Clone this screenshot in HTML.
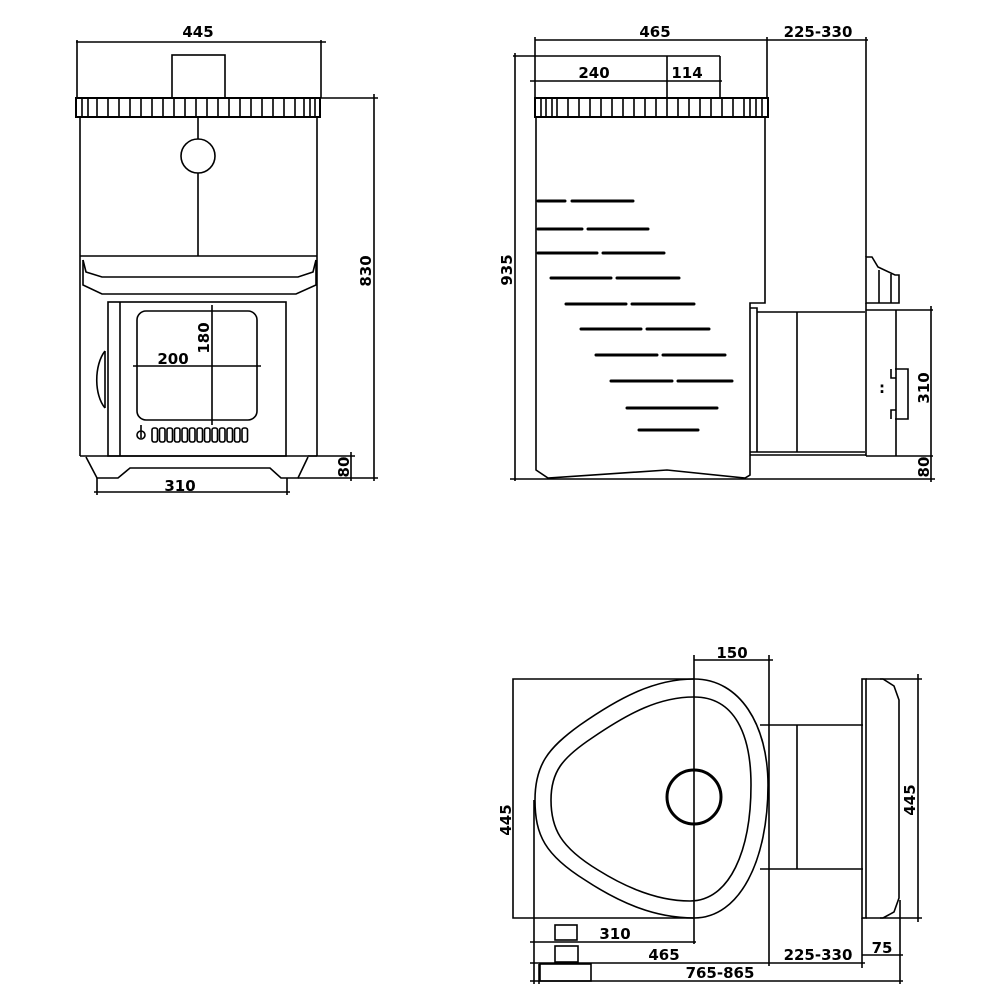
<!DOCTYPE html>
<html><head><meta charset="utf-8"><style>
html,body{margin:0;padding:0;background:#fff;}
svg{display:block;}
text{font-family:"DejaVu Sans","Liberation Sans",sans-serif;font-weight:bold;font-size:15px;fill:#000;}
</style></head><body>
<svg width="1000" height="1000" viewBox="0 0 1000 1000" xmlns="http://www.w3.org/2000/svg">
<g fill="none" stroke="#000" stroke-width="1.6">
<!-- ===== FRONT VIEW ===== -->
<line x1="76" y1="42" x2="326" y2="42"/>
<line x1="77" y1="40" x2="77" y2="98"/>
<line x1="321" y1="40" x2="321" y2="98"/>
<rect x="172" y="55" width="53" height="43"/>
<rect x="76" y="98" width="244" height="19" stroke-width="2"/>
<path d="M82 99v17M88 99v17M97 99v17M108 99v17M119 99v17M130 99v17M141 99v17M152 99v17M163 99v17M174 99v17M185 99v17M196 99v17M207 99v17M218 99v17M229 99v17M240 99v17M251 99v17M262 99v17M273 99v17M284 99v17M295 99v17M304 99v17M310 99v17M315 99v17"/>
<line x1="80" y1="117" x2="80" y2="456"/>
<line x1="317" y1="117" x2="317" y2="456"/>
<line x1="198" y1="117" x2="198" y2="139"/>
<line x1="198" y1="173" x2="198" y2="256"/>
<circle cx="198" cy="156" r="17"/>
<line x1="80" y1="256" x2="317" y2="256"/>
<path d="M83 260 L86 272 L102 277 L298 277 L313 272 L316 260"/>
<path d="M83 260 L83 285 L102 294 L296 294 L316 285 L316 260"/>
<rect x="108" y="302" width="178" height="154"/>
<line x1="120" y1="302" x2="120" y2="456"/>
<rect x="137" y="311" width="120" height="109" rx="9"/>
<line x1="133" y1="366" x2="261" y2="366"/>
<line x1="212" y1="305" x2="212" y2="425"/>
<circle cx="141" cy="435" r="4"/>
<line x1="141" y1="425" x2="141" y2="438"/>
<g>
<rect x="152" y="428" width="5.5" height="14" rx="2"/><rect x="159.5" y="428" width="5.5" height="14" rx="2"/><rect x="167" y="428" width="5.5" height="14" rx="2"/><rect x="174.5" y="428" width="5.5" height="14" rx="2"/><rect x="182" y="428" width="5.5" height="14" rx="2"/><rect x="189.5" y="428" width="5.5" height="14" rx="2"/><rect x="197" y="428" width="5.5" height="14" rx="2"/><rect x="204.5" y="428" width="5.5" height="14" rx="2"/><rect x="212" y="428" width="5.5" height="14" rx="2"/><rect x="219.5" y="428" width="5.5" height="14" rx="2"/><rect x="227" y="428" width="5.5" height="14" rx="2"/><rect x="234.5" y="428" width="5.5" height="14" rx="2"/><rect x="242" y="428" width="5.5" height="14" rx="2"/>
</g>
<path d="M105 351 C94 365 94 395 105 408"/>
<line x1="105" y1="351" x2="105" y2="408"/>
<line x1="80" y1="456" x2="317" y2="456"/>
<path d="M86 457 L97 478 L118 478 L130 468 L270 468 L281 478 L298 478 L308 457"/>
<line x1="97" y1="478" x2="97" y2="495"/>
<line x1="287" y1="478" x2="287" y2="495"/>
<line x1="94" y1="492" x2="290" y2="492"/>
<line x1="308" y1="456" x2="355" y2="456"/>
<line x1="298" y1="478" x2="378" y2="478"/>
<line x1="351" y1="452" x2="351" y2="481"/>
<line x1="320" y1="98" x2="378" y2="98"/>
<line x1="374" y1="94" x2="374" y2="481"/>
<!-- ===== SIDE VIEW ===== -->
<line x1="535" y1="40" x2="868" y2="40"/>
<line x1="535" y1="37" x2="535" y2="98"/>
<line x1="767" y1="37" x2="767" y2="98"/>
<line x1="866" y1="37" x2="866" y2="257"/>
<line x1="513" y1="56" x2="720" y2="56"/>
<line x1="530" y1="81" x2="722" y2="81"/>
<line x1="667" y1="56" x2="667" y2="98"/>
<line x1="720" y1="56" x2="720" y2="98"/>
<line x1="515" y1="53" x2="515" y2="481"/>
<rect x="535" y="98" width="233" height="19" stroke-width="2"/>
<path d="M541 99v17M546 99v17M552 99v17M557 99v17M568 99v17M579 99v17M590 99v17M601 99v17M612 99v17M623 99v17M634 99v17M645 99v17M656 99v17M667 99v17M678 99v17M689 99v17M700 99v17M711 99v17M722 99v17M733 99v17M744 99v17M750 99v17M756 99v17M762 99v17"/>
<path d="M536 117 L536 470 L548 478 L667 470 L745 478 L750 475 L750 303 L765 303 L765 117"/>
<line x1="510" y1="479" x2="935" y2="479"/>
<path d="M750 308 L757 308 L757 452 M757 312 L865 312 M797 312 L797 452 M750 452 L865 452 M750 455 L866 455"/>
<path d="M866 257 L872 257 L878 267 L895 275 L899 275 L899 303 L866 303 Z"/>
<line x1="879" y1="270" x2="879" y2="303"/>
<line x1="891" y1="274" x2="891" y2="303"/>
<path d="M866 303 L866 456 M866 310 L933 310 M896 310 L896 456 M866 456 L933 456"/>
<path d="M895 369 L908 369 L908 419 L895 419 M891 369 L891 378 L896 378 M891 419 L891 410 L896 410"/>
<line x1="931" y1="306" x2="931" y2="482"/>
<g stroke-width="3" stroke-linecap="round">
<path d="M538 201h27M572 201h61M538 229h44M588 229h60M538 253h59M603 253h61M551 278h60M617 278h62M566 304h60M632 304h62M581 329h60M647 329h62M596 355h61M663 355h62M611 381h61M678 381h54M627 408h90M639 430h59"/>
</g>
<!-- ===== TOP VIEW ===== -->
<line x1="694" y1="660" x2="773" y2="660"/>
<line x1="694" y1="655" x2="694" y2="944"/>
<line x1="769" y1="655" x2="769" y2="966"/>
<path d="M694 679 L513 679 L513 918 L694 918"/>
<path d="M694 679 C740 679 768 725 768 785 C768 860 740 918 694 918 C655 918 620 903 585 880 C545 855 535 835 535 800 C535 765 548 748 580 725 C620 697 655 679 694 679 Z"/>
<path d="M694 697 C735 697 751 735 751 785 C751 850 730 901 690 901 C660 901 630 890 598 870 C560 847 551 828 551 800 C551 772 562 758 592 738 C630 712 660 697 694 697 Z"/>
<circle cx="694" cy="797" r="27" stroke-width="3"/>
<path d="M760 725 L863 725 M760 869 L863 869 M797 725 L797 869"/>
<rect x="862" y="679" width="4" height="239"/>
<path d="M866 679 L883 679 L894 686 L899 700 L899 898 L894 912 L883 918 L866 918"/>
<line x1="880" y1="679" x2="922" y2="679"/>
<line x1="880" y1="918" x2="922" y2="918"/>
<line x1="918" y1="674" x2="918" y2="922"/>
<line x1="534" y1="800" x2="534" y2="984"/>
<line x1="539" y1="964" x2="539" y2="984"/>
<line x1="530" y1="942" x2="696" y2="942"/>
<line x1="530" y1="963" x2="865" y2="963"/>
<line x1="862" y1="918" x2="862" y2="968"/>
<line x1="862" y1="955" x2="903" y2="955"/>
<line x1="900" y1="900" x2="900" y2="984"/>
<line x1="530" y1="981" x2="903" y2="981"/>
<rect x="555" y="925" width="22" height="15"/>
<rect x="555" y="946" width="23" height="16"/>
<rect x="540" y="964" width="51" height="17"/>
</g>
<text x="198" y="37" text-anchor="middle">445</text>
<text x="173" y="364" text-anchor="middle">200</text>
<text transform="translate(209,338) rotate(-90)" text-anchor="middle">180</text>
<text transform="translate(371,271) rotate(-90)" text-anchor="middle">830</text>
<text x="180" y="491" text-anchor="middle">310</text>
<text transform="translate(349,467) rotate(-90)" text-anchor="middle">80</text>
<text x="655" y="37" text-anchor="middle">465</text>
<text x="818" y="37" text-anchor="middle">225-330</text>
<text x="594" y="78" text-anchor="middle">240</text>
<text x="687" y="78" text-anchor="middle">114</text>
<text transform="translate(512,270) rotate(-90)" text-anchor="middle">935</text>
<text transform="translate(929,388) rotate(-90)" text-anchor="middle">310</text>
<text transform="translate(929,467) rotate(-90)" text-anchor="middle">80</text>
<text x="732" y="658" text-anchor="middle">150</text>
<text transform="translate(511,820) rotate(-90)" text-anchor="middle">445</text>
<text transform="translate(915,800) rotate(-90)" text-anchor="middle">445</text>
<text x="615" y="939" text-anchor="middle">310</text>
<text x="664" y="960" text-anchor="middle">465</text>
<text x="818" y="960" text-anchor="middle">225-330</text>
<text x="882" y="953" text-anchor="middle">75</text>
<text x="720" y="978" text-anchor="middle">765-865</text>
<text x="882" y="393" text-anchor="middle" font-size="10">:</text>
</svg>
</body></html>
